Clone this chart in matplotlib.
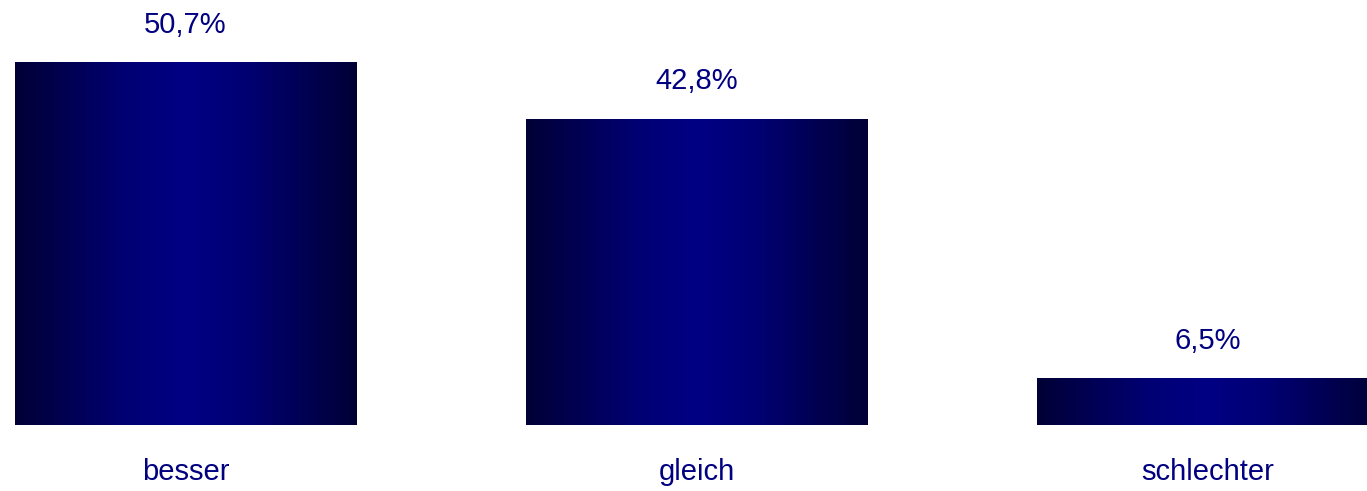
import numpy as np
import matplotlib
matplotlib.use("Agg")
from matplotlib import pyplot as plt
from matplotlib.colors import LinearSegmentedColormap

categories = ["besser", "gleich", "schlechter"]
shares = [50.7, 42.8, 6.5]

textColor = "#000080"

plt.rcParams['font.family'] = ['Liberation Sans', 'DejaVu Sans']

fig = plt.figure(figsize=(13.67, 4.91), dpi=100)
ax = fig.add_axes([0, 0, 1, 1])

positions = np.arange(len(categories))
bars = ax.bar(positions, shares, width=0.669, color="none", edgecolor="none")

# horizontal gradient: dark at both edges, brighter navy in the middle
cmap = LinearSegmentedColormap.from_list("navyband", [
    (0.0, "#000036"), (0.33, "#000074"), (0.5, "#000084"),
    (0.67, "#000074"), (1.0, "#000036")])
gradient = np.linspace(0, 1, 256).reshape(1, -1)
for bar in bars:
    x0, y0 = bar.get_x(), bar.get_y()
    w, h = bar.get_width(), bar.get_height()
    img = ax.imshow(gradient, cmap=cmap, aspect="auto", interpolation="bicubic",
                    extent=[x0, x0 + w, y0, y0 + h], zorder=2)
    img.set_clip_path(bar)

for pos, value in zip(positions, shares):
    label = f"{value:.1f}".replace(".", ",") + "%"
    ax.annotate(label, (pos, value), xytext=(0, 27), textcoords="offset points",
                ha="center", va="center", fontsize=21, color=textColor)

for pos, name in zip(positions, categories):
    ax.annotate(name, (pos, 0), xytext=(0, -34), textcoords="offset points",
                ha="center", va="center", fontsize=21, color=textColor)

ax.set_xlim(-0.363, 2.312)
ax.set_ylim(-9.22, 59.36)
ax.axis("off")

fig.savefig("out.png", dpi=100)
